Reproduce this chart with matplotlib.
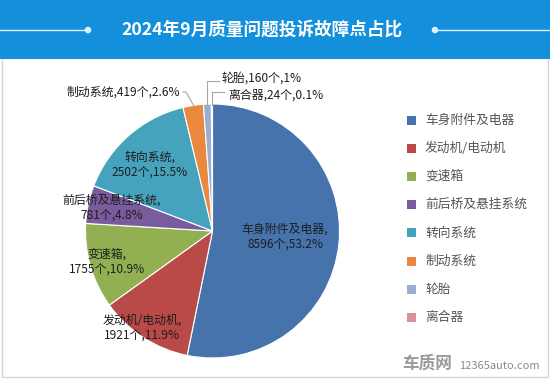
import matplotlib
matplotlib.use("Agg")
import matplotlib.pyplot as plt
from matplotlib.patches import Rectangle, Circle

plt.rcParams['font.family'] = ['Noto Sans CJK SC', 'DejaVu Sans']

# ------------------------------
# Data
# ------------------------------
title = "2024年9月质量问题投诉故障点占比"
categories = ["车身附件及电器", "发动机/电动机", "变速箱", "前后桥及悬挂系统",
              "转向系统", "制动系统", "轮胎", "离合器"]
counts = [8596, 1921, 1755, 781, 2502, 419, 160, 24]
pct_labels = ["53.2%", "11.9%", "10.9%", "4.8%", "15.5%", "2.6%", "1%", "0.1%"]
colors = ["#4673AC", "#BA4A48", "#92B052", "#7A5C9E", "#45A3BE",
          "#E9893F", "#98AFD3", "#D8919A"]

W, H = 550, 380


def py(y):
    """pixel row (from top) -> data y (from bottom)"""
    return H - y


fig = plt.figure(figsize=(5.5, 3.8), dpi=100)
ax = fig.add_axes([0, 0, 1, 1])
ax.set_xlim(0, W)
ax.set_ylim(0, H)
ax.set_aspect("equal")
ax.axis("off")

# ------------------------------
# Frame + title banner
# ------------------------------
ax.add_patch(Rectangle((2, py(377)), 546, 377 - 58, facecolor="white",
                       edgecolor="#d6d6d6", lw=1.0, zorder=0))
ax.add_patch(Rectangle((0, py(59)), W, 59, facecolor="#148FDB",
                       edgecolor="none", zorder=1))
line_c = "#d4f1ff"
ax.plot([0, 88], [py(30), py(30)], color=line_c, lw=1.0, zorder=2)
ax.plot([435, W], [py(30), py(30)], color=line_c, lw=1.0, zorder=2)
ax.add_patch(Circle((88, py(30)), 2.6, color=line_c, zorder=3))
ax.add_patch(Circle((435, py(30)), 2.6, color=line_c, zorder=3))
ax.text(262, py(30), title, color="white", fontsize=12.7, fontweight="bold",
        ha="center", va="center", zorder=3)

# ------------------------------
# Pie
# ------------------------------
cx, cy, R = 212.5, py(231), 127
wedges, _ = ax.pie(counts, colors=colors, startangle=90, counterclock=False,
                   center=(cx, cy), radius=R, frame=True,
                   wedgeprops=dict(edgecolor="white", linewidth=0.8))
ax.set_xlim(0, W)
ax.set_ylim(0, H)
ax.axis("off")

txt_c = "#1e1e1e"
fs = 8.6

# labels inside / near the slices (two lines)
two_line = {0: (285, 237), 1: (142, 328), 2: (107, 262), 3: (112, 208), 4: (150, 165)}
for i, (x, y) in two_line.items():
    ax.text(x, py(y), f"{categories[i]},\n{counts[i]}个,{pct_labels[i]}",
            ha="center", va="center", fontsize=fs, color=txt_c,
            linespacing=1.25, zorder=5)

# small slices: labels outside with leader lines
lead_c = "#a6a6a6"
ax.text(180, py(92), f"{categories[5]},{counts[5]}个,{pct_labels[5]}",
        ha="right", va="center", fontsize=fs, color=txt_c)
ax.plot([183, 186, 194], [py(92), py(92), py(106)], color=lead_c, lw=0.8)

ax.text(222, py(78), f"{categories[6]},{counts[6]}个,{pct_labels[6]}",
        ha="left", va="center", fontsize=fs, color=txt_c)
ax.plot([219, 207, 207], [py(81), py(81), py(105)], color=lead_c, lw=0.8)

ax.text(228, py(95), f"{categories[7]},{counts[7]}个,{pct_labels[7]}",
        ha="left", va="center", fontsize=fs, color=txt_c)
ax.plot([224, 212, 212], [py(92), py(92), py(105)], color=lead_c, lw=0.8)

# ------------------------------
# Legend (drawn by hand to match spacing)
# ------------------------------
leg_y0, leg_dy = 120, 28.2
for i, (name, col) in enumerate(zip(categories, colors)):
    y = py(leg_y0 + i * leg_dy)
    ax.add_patch(Rectangle((407, y - 4.5), 9, 9, facecolor=col,
                           edgecolor="none", zorder=4))
    ax.text(425, y, name, ha="left", va="center", fontsize=9.2,
            color="#555555", zorder=4)

# ------------------------------
# Watermark
# ------------------------------
ax.text(427, py(364), "车质网", ha="center", va="center", fontsize=12,
        fontweight="bold", color="#9a9a9a", zorder=4)
ax.text(499, py(366), "12365auto.com", ha="center", va="center",
        fontsize=8, color="#8a8a8a", zorder=4)

fig.savefig("out.png", dpi=100)
